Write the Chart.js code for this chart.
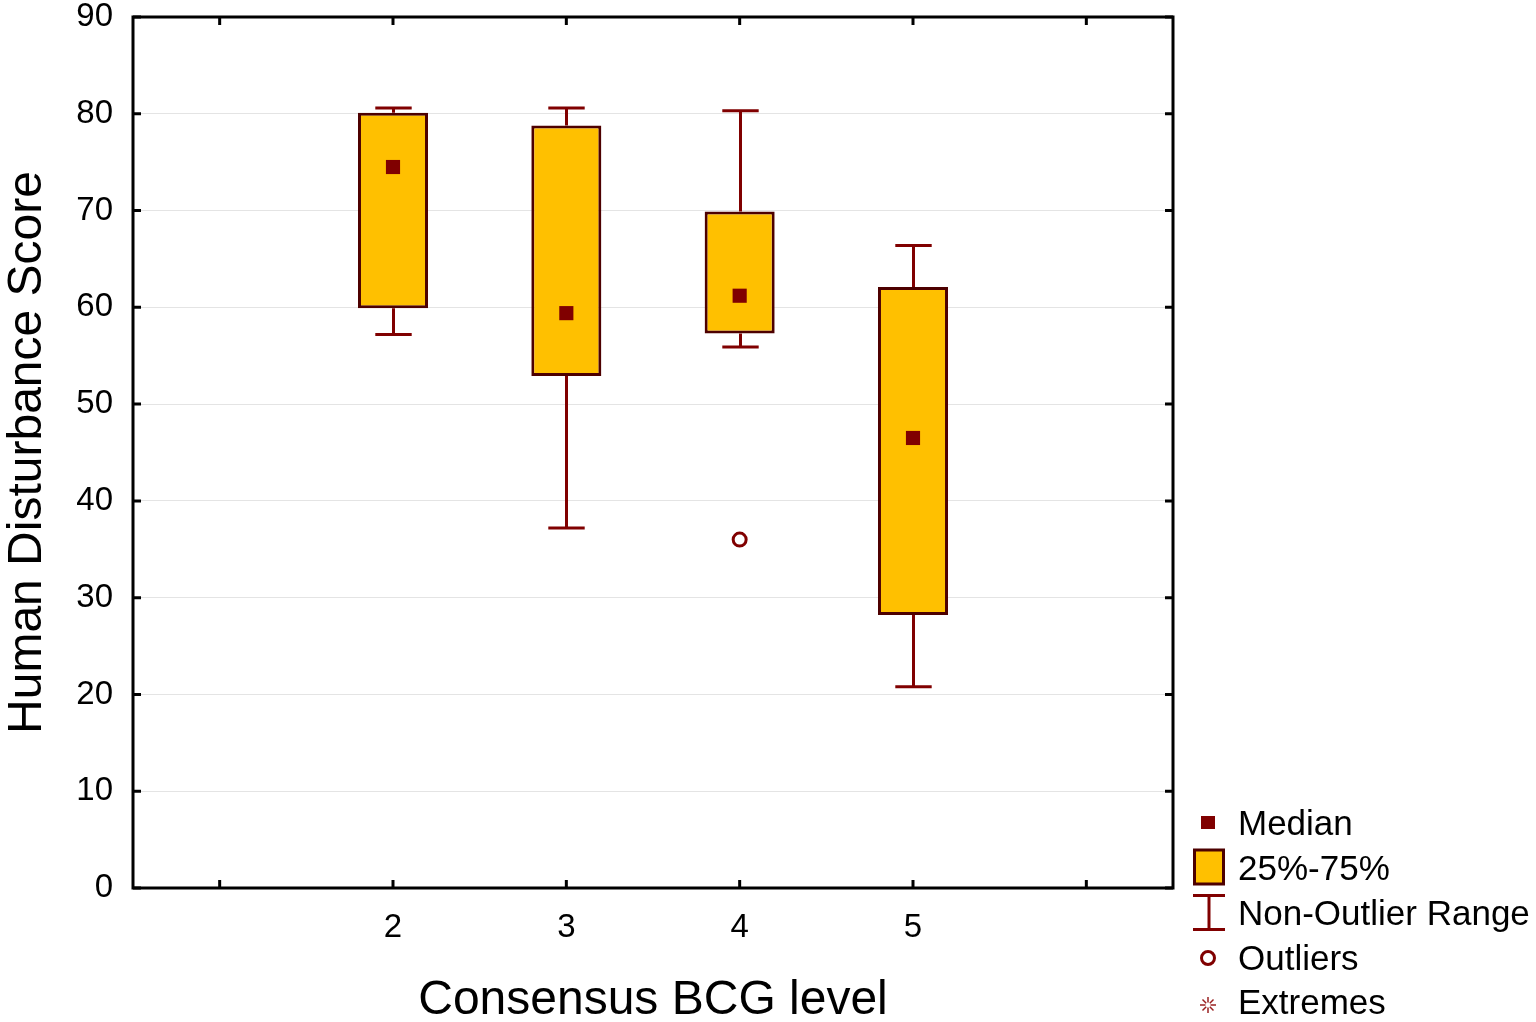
<!DOCTYPE html>
<html><head><meta charset="utf-8">
<script src="https://cdn.jsdelivr.net/npm/chart.js@4.4.1/dist/chart.umd.min.js"></script>
<style>
html,body{margin:0;padding:0;background:#fff;}
#wrap{position:relative;width:1536px;height:1022px;overflow:hidden;}
#c{position:absolute;left:0;top:0;}
#legend{position:absolute;left:0;top:0;pointer-events:none;}
#legend text{font-family:"Liberation Sans",Arial,sans-serif;font-size:35px;fill:#000;}
</style></head><body>
<div id="wrap">
<canvas id="c" width="1536" height="1022"></canvas>
<svg id="legend" width="1536" height="1022" xmlns="http://www.w3.org/2000/svg">
  <rect x="1201" y="816" width="14" height="13" fill="#800000"/>
  <text x="1238" y="835">Median</text>
  <rect x="1194.5" y="850" width="29" height="34" fill="#FFC000" stroke="#4d0000" stroke-width="3"/>
  <text x="1238" y="880">25%-75%</text>
  <g stroke="#800000" stroke-width="3" fill="none">
    <line x1="1193" y1="895.5" x2="1225" y2="895.5"/>
    <line x1="1193" y1="929.5" x2="1225" y2="929.5"/>
    <line x1="1209" y1="895.5" x2="1209" y2="929.5"/>
  </g>
  <text x="1238" y="925">Non-Outlier Range</text>
  <circle cx="1208" cy="958" r="6.5" fill="#fff" stroke="#800000" stroke-width="3"/>
  <text x="1238" y="970">Outliers</text>
  <g stroke="#9a2020" stroke-width="1.5">
    <line x1="1208" y1="997" x2="1208" y2="1002.5"/>
    <line x1="1208" y1="1007.5" x2="1208" y2="1013"/>
    <line x1="1200" y1="1005" x2="1205.5" y2="1005"/>
    <line x1="1210.5" y1="1005" x2="1216" y2="1005"/>
    <line x1="1202.5" y1="999.5" x2="1206.2" y2="1003.2"/>
    <line x1="1209.8" y1="1006.8" x2="1213.5" y2="1010.5"/>
    <line x1="1213.5" y1="999.5" x2="1209.8" y2="1003.2"/>
    <line x1="1206.2" y1="1006.8" x2="1202.5" y2="1010.5"/>
  </g>
  <text x="1238" y="1014">Extremes</text>
</svg>
</div>
<script>
// ---- data ----
const categories  = ['1', '2', '3', '4', '5', '6'];
const tickLabels  = ['', '2', '3', '4', '5', ''];
const whiskerHigh = [null, 80.6, 80.6, 80.3, 66.4, null];
const q3          = [null, 80.1, 78.8, 69.9, 62.1, null];
const median      = [null, 74.5, 59.4, 61.2, 46.5, null];
const q1          = [null, 59.9, 52.9, 57.3, 28.2, null];
const whiskerLow  = [null, 57.2, 37.2, 55.9, 20.8, null];
const outliers    = [null, null, null, 36.0, null, null];
const yTicks      = [0, 10, 20, 30, 40, 50, 60, 70, 80, 90];

const BOX_FILL = '#FFC000', BOX_EDGE = '#4d0000', WHISKER = '#800000';
const FONT = '"Liberation Sans", Arial, sans-serif';

const boxData = categories.map((c, i) => q1[i] == null ? null : [q1[i], q3[i]]);

const boxExtras = {
  id: 'boxExtras',
  beforeDatasetsDraw(chart) {
    const { ctx, scales: { x, y } } = chart;
    const step = x.getPixelForValue(1) - x.getPixelForValue(0);
    const capHalf = step * 0.105;
    ctx.save();
    ctx.strokeStyle = WHISKER;
    ctx.lineWidth = 3;
    ctx.lineCap = 'butt';
    categories.forEach((c, i) => {
      if (whiskerLow[i] == null) return;
      const px = Math.round(x.getPixelForValue(i)) + 0.5;
      const yl = y.getPixelForValue(whiskerLow[i]);
      const yh = y.getPixelForValue(whiskerHigh[i]);
      const y1 = y.getPixelForValue(q1[i]);
      const y3 = y.getPixelForValue(q3[i]);
      ctx.beginPath();
      ctx.moveTo(px, yl); ctx.lineTo(px, y1);
      ctx.moveTo(px, y3); ctx.lineTo(px, yh);
      ctx.moveTo(px - capHalf, yl); ctx.lineTo(px + capHalf, yl);
      ctx.moveTo(px - capHalf, yh); ctx.lineTo(px + capHalf, yh);
      ctx.stroke();
    });
    ctx.restore();
  },
  afterDraw(chart) {
    const { ctx, chartArea: a, scales: { x, y } } = chart;
    ctx.save();
    ctx.strokeStyle = '#000';
    ctx.lineWidth = 3;
    ctx.strokeRect(a.left, a.top, a.right - a.left, a.bottom - a.top);
    const L = 8;
    ctx.beginPath();
    x.ticks.forEach((t, i) => {
      const px = x.getPixelForTick(i);
      ctx.moveTo(px, a.top); ctx.lineTo(px, a.top + L);
      ctx.moveTo(px, a.bottom); ctx.lineTo(px, a.bottom - L);
    });
    y.ticks.forEach((t, i) => {
      const py = y.getPixelForTick(i);
      ctx.moveTo(a.left, py); ctx.lineTo(a.left + L, py);
      ctx.moveTo(a.right, py); ctx.lineTo(a.right - L, py);
    });
    ctx.stroke();
    ctx.restore();
  }
};

new Chart(document.getElementById('c'), {
  type: 'bar',
  data: {
    labels: categories,
    datasets: [
      {
        type: 'line', label: 'Median', data: median, showLine: false, order: 0,
        pointStyle: 'rect', pointRadius: 10, pointBackgroundColor: WHISKER,
        pointBorderWidth: 0, pointBorderColor: WHISKER
      },
      {
        type: 'line', label: 'Outliers', data: outliers, showLine: false, order: 1,
        pointStyle: 'circle', pointRadius: 6.5, pointBackgroundColor: '#fff',
        pointBorderWidth: 3, pointBorderColor: WHISKER
      },
      {
        type: 'bar', label: '25%-75%', data: boxData, order: 2,
        backgroundColor: BOX_FILL, borderColor: BOX_EDGE, borderWidth: 3,
        borderSkipped: false, categoryPercentage: 1, barPercentage: 0.404
      }
    ]
  },
  options: {
    responsive: false,
    animation: false,
    devicePixelRatio: 1,
    layout: { padding: { top: 17, right: 363, left: 0, bottom: 0 } },
    plugins: { legend: { display: false }, tooltip: { enabled: false } },
    scales: {
      x: {
        offset: true,
        grid: { display: false, drawTicks: false },
        border: { display: false },
        ticks: {
          color: '#000', font: { family: FONT, size: 33 }, padding: 20,
          maxRotation: 0, autoSkip: false,
          callback: (v, i) => tickLabels[i]
        },
        title: {
          display: true, text: 'Consensus BCG level', color: '#000',
          font: { family: FONT, size: 48, lineHeight: 0.9 }, padding: 0
        },
        afterFit(s) { s.height = 134; s.paddingLeft = 0; s.paddingRight = 0; }
      },
      y: {
        min: 0, max: 90,
        afterBuildTicks(s) { s.ticks = yTicks.map(v => ({ value: v })); },
        grid: { color: '#e4e4e4', lineWidth: 1, drawTicks: false },
        border: { display: false },
        ticks: { color: '#000', font: { family: FONT, size: 33 }, padding: 20 },
        title: {
          display: true, text: 'Human Disturbance Score', color: '#000',
          font: { family: FONT, size: 48, lineHeight: 1.15 }, padding: 0
        },
        afterFit(s) { s.width = 133; s.paddingTop = 0; s.paddingBottom = 0; }
      }
    }
  },
  plugins: [boxExtras]
});
</script>
</body></html>
